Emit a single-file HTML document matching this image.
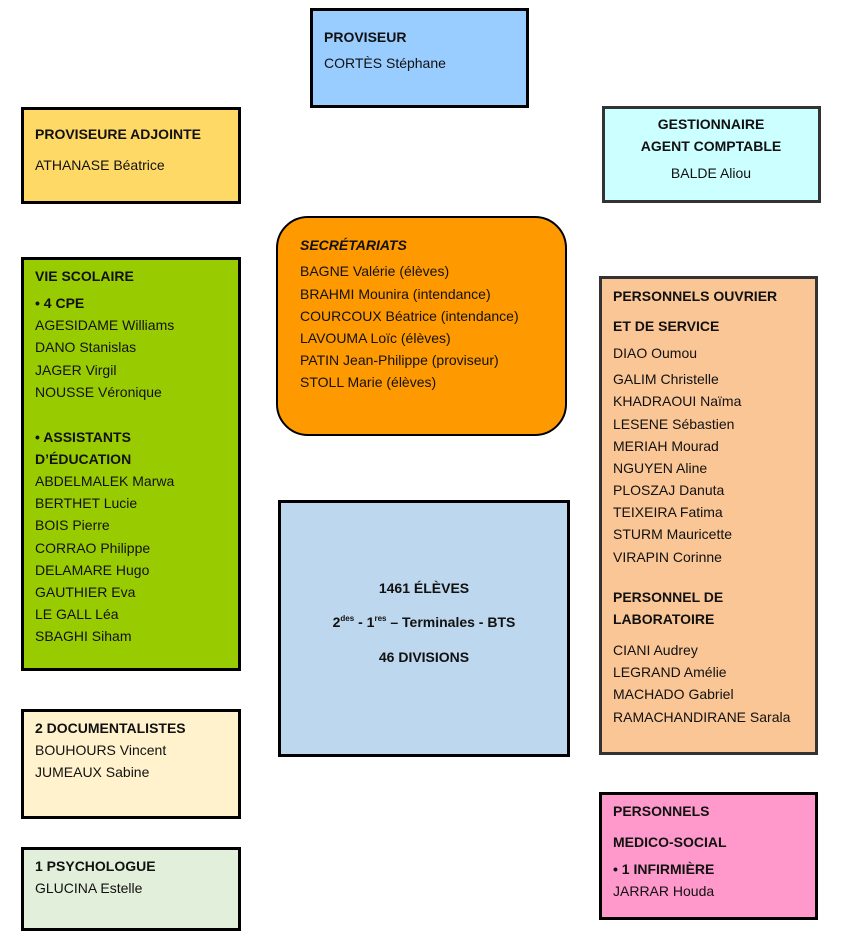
<!DOCTYPE html>
<html><head><meta charset="utf-8"><style>
body{margin:0;width:843px;height:934px;background:#fff;position:relative;overflow:hidden;font-family:"Liberation Sans",sans-serif;font-size:14px;color:#111}
.b{position:absolute;box-sizing:border-box;border:3px solid #000}
.t{position:absolute;line-height:18px;white-space:nowrap;margin-top:1px}
.bo{font-weight:bold}
.c{text-align:center;transform:translateX(-50%)}
sup{font-size:8px;vertical-align:6px;line-height:0}
</style></head><body>
<div class="b" style="left:310px;top:8px;width:219px;height:100px;background:#99ccff"></div>
<div class="b" style="left:21px;top:107px;width:220px;height:97px;background:#ffd966"></div>
<div class="b" style="left:602px;top:106px;width:219px;height:97px;background:#ccffff;border-color:#333"></div>
<div class="b" style="left:276px;top:216px;width:291px;height:220px;background:#ff9900;border-radius:32px;border-width:2px"></div>
<div class="b" style="left:21px;top:257px;width:220px;height:414px;background:#99cc00"></div>
<div class="b" style="left:599px;top:276px;width:219px;height:479px;background:#fbc695;border-color:#333"></div>
<div class="b" style="left:278px;top:500px;width:292px;height:257px;background:#bdd7ee"></div>
<div class="b" style="left:21px;top:709px;width:220px;height:110px;background:#fff2cc"></div>
<div class="b" style="left:21px;top:847px;width:220px;height:84px;background:#e2efda"></div>
<div class="b" style="left:599px;top:792px;width:219px;height:128px;background:#ff99cc"></div>

<div class="t bo" style="left:324px;top:27px">PROVISEUR</div>
<div class="t" style="left:324px;top:53px">CORTÈS Stéphane</div>

<div class="t bo" style="left:35px;top:124px">PROVISEURE ADJOINTE</div>
<div class="t" style="left:35px;top:155px">ATHANASE Béatrice</div>

<div class="t bo c" style="left:711px;top:114px">GESTIONNAIRE</div>
<div class="t bo c" style="left:711px;top:136px">AGENT COMPTABLE</div>
<div class="t c" style="left:711px;top:163px">BALDE Aliou</div>

<div class="t bo" style="left:300px;top:235px;font-style:italic">SECRÉTARIATS</div>
<div class="t" style="left:300px;top:261px">BAGNE Valérie (élèves)</div>
<div class="t" style="left:300px;top:284px">BRAHMI Mounira (intendance)</div>
<div class="t" style="left:300px;top:306px">COURCOUX Béatrice (intendance)</div>
<div class="t" style="left:300px;top:328px">LAVOUMA Loïc (élèves)</div>
<div class="t" style="left:300px;top:350px">PATIN Jean-Philippe (proviseur)</div>
<div class="t" style="left:300px;top:372px">STOLL Marie (élèves)</div>

<div class="t bo" style="left:35px;top:266px">VIE SCOLAIRE</div>
<div class="t bo" style="left:35px;top:293px">• 4 CPE</div>
<div class="t" style="left:35px;top:315px">AGESIDAME Williams</div>
<div class="t" style="left:35px;top:337px">DANO Stanislas</div>
<div class="t" style="left:35px;top:360px">JAGER Virgil</div>
<div class="t" style="left:35px;top:382px">NOUSSE Véronique</div>
<div class="t bo" style="left:35px;top:427px">• ASSISTANTS</div>
<div class="t bo" style="left:35px;top:449px">D’ÉDUCATION</div>
<div class="t" style="left:35px;top:471px">ABDELMALEK Marwa</div>
<div class="t" style="left:35px;top:493px">BERTHET Lucie</div>
<div class="t" style="left:35px;top:515px">BOIS Pierre</div>
<div class="t" style="left:35px;top:538px">CORRAO Philippe</div>
<div class="t" style="left:35px;top:560px">DELAMARE Hugo</div>
<div class="t" style="left:35px;top:582px">GAUTHIER Eva</div>
<div class="t" style="left:35px;top:604px">LE GALL Léa</div>
<div class="t" style="left:35px;top:626px">SBAGHI Siham</div>

<div class="t bo c" style="left:424px;top:578px">1461 ÉLÈVES</div>
<div class="t bo c" style="left:424px;top:612px">2<sup>des</sup> - 1<sup>res</sup> – Terminales - BTS</div>
<div class="t bo c" style="left:424px;top:647px">46 DIVISIONS</div>

<div class="t bo" style="left:613px;top:286px">PERSONNELS OUVRIER</div>
<div class="t bo" style="left:613px;top:316px">ET DE SERVICE</div>
<div class="t" style="left:613px;top:343px">DIAO Oumou</div>
<div class="t" style="left:613px;top:369px">GALIM Christelle</div>
<div class="t" style="left:613px;top:391px">KHADRAOUI Naïma</div>
<div class="t" style="left:613px;top:414px">LESENE Sébastien</div>
<div class="t" style="left:613px;top:436px">MERIAH Mourad</div>
<div class="t" style="left:613px;top:458px">NGUYEN Aline</div>
<div class="t" style="left:613px;top:480px">PLOSZAJ Danuta</div>
<div class="t" style="left:613px;top:502px">TEIXEIRA Fatima</div>
<div class="t" style="left:613px;top:524px">STURM Mauricette</div>
<div class="t" style="left:613px;top:547px">VIRAPIN Corinne</div>
<div class="t bo" style="left:613px;top:587px">PERSONNEL DE</div>
<div class="t bo" style="left:613px;top:609px">LABORATOIRE</div>
<div class="t" style="left:613px;top:640px">CIANI Audrey</div>
<div class="t" style="left:613px;top:662px">LEGRAND Amélie</div>
<div class="t" style="left:613px;top:684px">MACHADO Gabriel</div>
<div class="t" style="left:613px;top:707px">RAMACHANDIRANE Sarala</div>

<div class="t bo" style="left:35px;top:718px">2 DOCUMENTALISTES</div>
<div class="t" style="left:35px;top:740px">BOUHOURS Vincent</div>
<div class="t" style="left:35px;top:762px">JUMEAUX Sabine</div>

<div class="t bo" style="left:35px;top:856px">1 PSYCHOLOGUE</div>
<div class="t" style="left:35px;top:878px">GLUCINA Estelle</div>

<div class="t bo" style="left:613px;top:801px">PERSONNELS</div>
<div class="t bo" style="left:613px;top:832px">MEDICO-SOCIAL</div>
<div class="t bo" style="left:613px;top:859px">• 1 INFIRMIÈRE</div>
<div class="t" style="left:613px;top:881px">JARRAR Houda</div>
</body></html>
